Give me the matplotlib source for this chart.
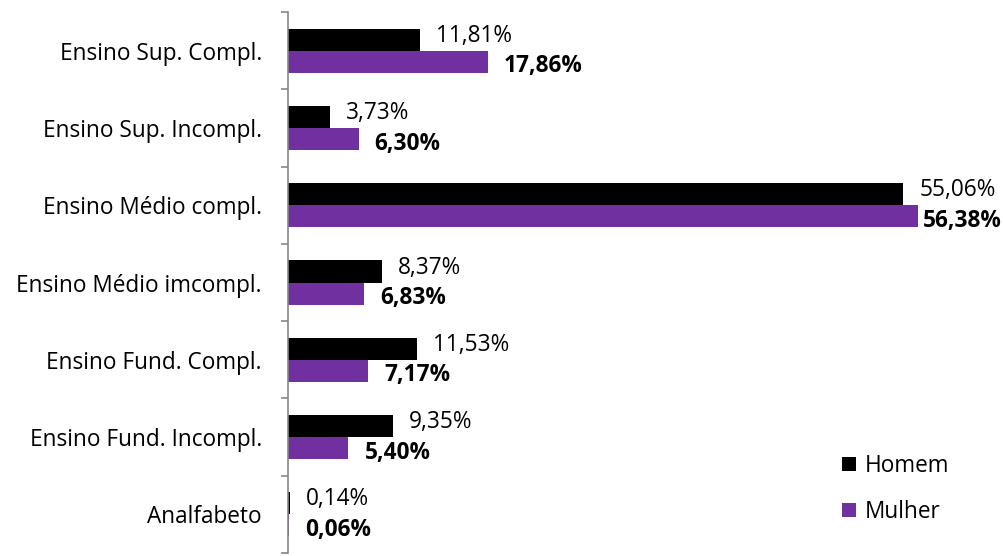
import numpy as np
import matplotlib
matplotlib.use("Agg")
import matplotlib.pyplot as plt

plt.rcParams['font.family'] = ['Open Sans', 'DejaVu Sans']

categorias = ['Ensino Sup. Compl.', 'Ensino Sup. Incompl.', 'Ensino Médio compl.',
              'Ensino Médio imcompl.', 'Ensino Fund. Compl.', 'Ensino Fund. Incompl.',
              'Analfabeto']
homem = [11.81, 3.73, 55.06, 8.37, 11.53, 9.35, 0.14]
mulher = [17.86, 6.30, 56.38, 6.83, 7.17, 5.40, 0.06]

cor_homem = '#000000'
cor_mulher = '#7030A0'
fs = 16.3

fig = plt.figure(figsize=(10.04, 5.56), dpi=100)
ax = fig.add_axes([0.287, 0.0054, 0.713, 0.9730])

n = len(categorias)
y = np.arange(n)[::-1]       # top category at top
h = 0.285

ax.barh(y + h / 2, homem, height=h, color=cor_homem, label='Homem')
ax.barh(y - h / 2, mulher, height=h, color=cor_mulher, label='Mulher')

ax.set_xlim(0, 64.1)
ax.set_ylim(-0.5, n - 0.5)

def fmt(v):
    return ('%.2f' % v).replace('.', ',') + '%'

gap = 1.45
for yi, vh, vm in zip(y, homem, mulher):
    ax.text(vh + gap, yi + h / 2 + 0.05, fmt(vh), ha='left', va='center',
            fontsize=fs, color='black')
    xm = min(vm + gap, 56.85)
    ax.text(xm, yi - h / 2 - 0.06, fmt(vm), ha='left', va='center',
            fontsize=fs, color='black', fontweight='bold')

# category boundaries as ticks, names at centres
ax.set_yticks(np.arange(-0.5, n, 1.0))
ax.set_yticklabels([])
ax.set_yticks(y, minor=True)
ax.set_yticklabels(categorias, minor=True, fontsize=fs)
ax.tick_params(axis='y', which='major', direction='out', length=5, width=1.2,
               color='#868686')
ax.tick_params(axis='y', which='minor', length=0, pad=19)
ax.set_xticks([])

for s in ['top', 'right', 'bottom']:
    ax.spines[s].set_visible(False)
ax.spines['left'].set_color('#868686')
ax.spines['left'].set_linewidth(1.2)

fig.legend(loc='upper left', bbox_to_anchor=(0.830, 0.200), frameon=False,
           fontsize=fs, handlelength=0.62, handleheight=0.62,
           handletextpad=0.35, labelspacing=0.98, borderaxespad=0)

fig.savefig('out.png', dpi=100)
